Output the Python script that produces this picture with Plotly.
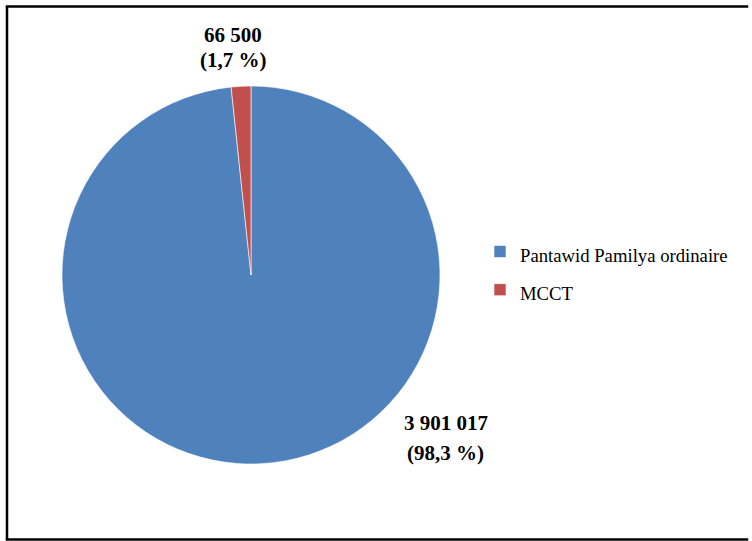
import plotly.graph_objects as go

categories = ["Pantawid Pamilya ordinaire", "MCCT"]
values = [3901017, 66500]
colors = ["#4F81BD", "#C0504D"]

W, H = 752, 541

def fmt_num(v):
    return f"{v:,}".replace(",", " ")

total = sum(values)
label_lines = [[fmt_num(v), f"({v / total * 100:.1f} %)".replace(".", ",")] for v in values]

legend_names = [f'<span style="font-size:18.7px">{c}</span>' for c in categories]

fig = go.Figure(go.Pie(
    labels=legend_names,
    values=values,
    sort=False,
    direction="clockwise",
    rotation=0,
    marker=dict(colors=colors, line=dict(color="white", width=0.6)),
    textinfo="none",
    hovertemplate="%{value}<extra></extra>",
    domain=dict(x=[62 / W, 440 / W], y=[1 - 464 / H, 1 - 86 / H]),
))

# (x center, y of line 1, y of line 2) in pixels
label_pos = [(445.5, 422.5, 453), (233.5, 35, 60)]
for lines, (px, py1, py2) in zip(label_lines, label_pos):
    for txt, py in zip(lines, (py1, py2)):
        fig.add_annotation(
            x=px / W, y=1 - py / H, xref="paper", yref="paper",
            text=f"<b>{txt}</b>", showarrow=False, xanchor="center", yanchor="middle",
            font=dict(family="Liberation Serif", size=21, color="black"),
        )

# outer frame (left, top, bottom edges; right edge lies outside the picture)
fx0, fy_top, fy_bot = 7 / W, 1 - 6.5 / H, 1 - 539.5 / H
frame_line = dict(color="black", width=2.5)
fig.add_shape(type="line", xref="paper", yref="paper", x0=fx0, x1=fx0, y0=fy_bot, y1=fy_top, line=frame_line)
fig.add_shape(type="line", xref="paper", yref="paper", x0=fx0 - 1.25 / W, x1=0.995, y0=fy_top, y1=fy_top, line=frame_line)
fig.add_shape(type="line", xref="paper", yref="paper", x0=fx0 - 1.25 / W, x1=0.995, y0=fy_bot, y1=fy_bot, line=frame_line)

fig.update_layout(
    width=W, height=H,
    margin=dict(l=0, r=0, t=0, b=0),
    paper_bgcolor="white",
    plot_bgcolor="white",
    showlegend=True,
    legend=dict(
        x=480 / W, y=1 - 271 / H, xanchor="left", yanchor="middle",
        font=dict(family="Liberation Serif", size=27, color="black"),
        bgcolor="rgba(0,0,0,0)",
        tracegroupgap=0,
        itemwidth=30,
    ),
    font=dict(family="Liberation Serif"),
)

fig.write_html(
    "out.html",
    config={"displayModeBar": False},
    post_script="document.documentElement.style.overflow='hidden';document.body.style.margin='0';document.body.style.overflow='hidden';",
)
